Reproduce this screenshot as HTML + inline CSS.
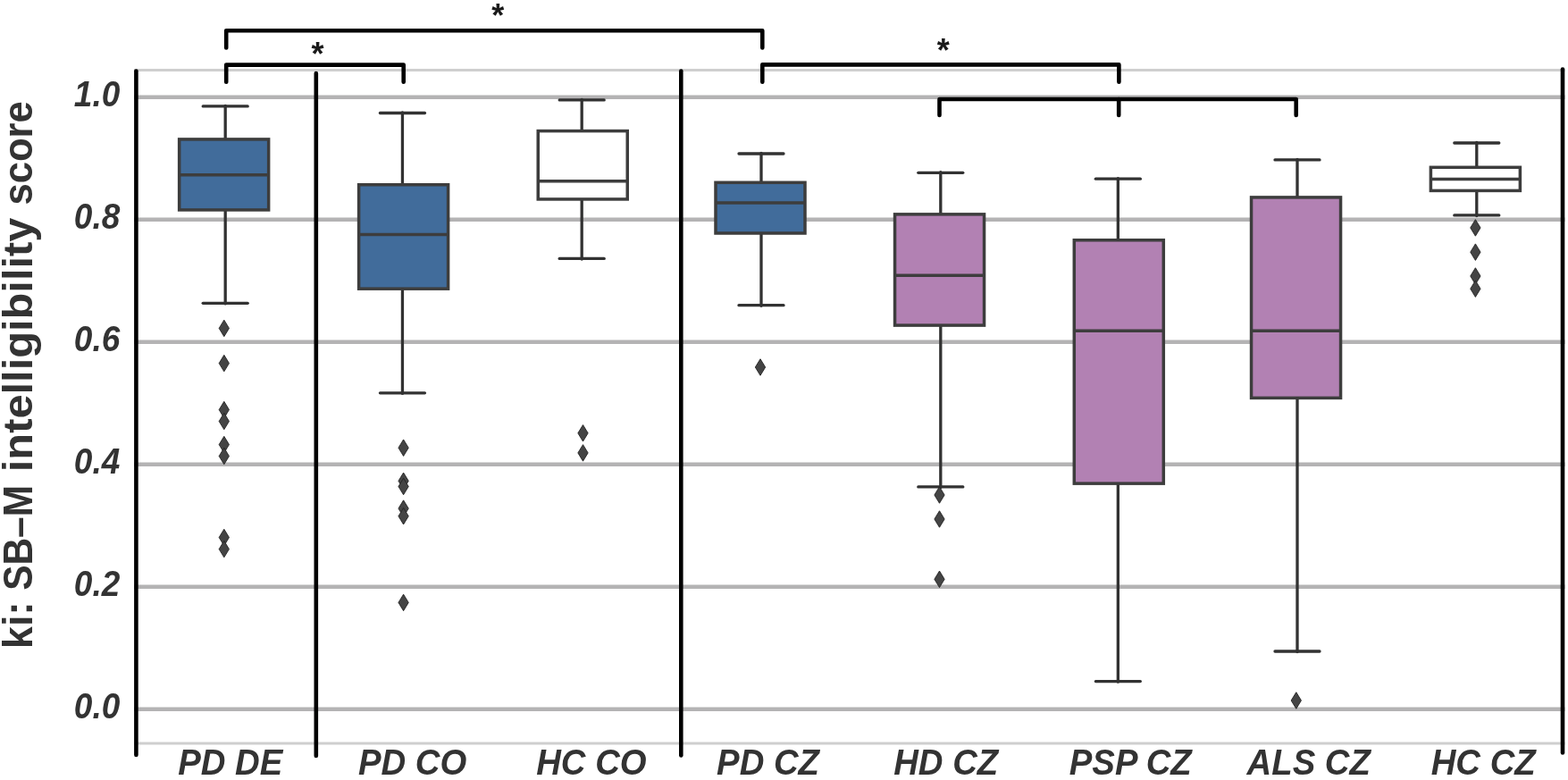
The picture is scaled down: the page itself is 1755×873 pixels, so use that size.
<!DOCTYPE html>
<html><head><meta charset="utf-8">
<style>
html,body{margin:0;padding:0;background:#fff;}
body{width:1755px;height:873px;overflow:hidden;}
svg{display:block;}
.t{font-family:"Liberation Sans",Arial,sans-serif;font-weight:bold;font-style:italic;fill:#333333;}
.yl{font-family:"Liberation Sans",Arial,sans-serif;font-weight:bold;fill:#333333;}
.st{font-family:"Liberation Sans",Arial,sans-serif;font-weight:bold;fill:#1a1a1a;}
</style></head><body>
<svg width="1755" height="873" viewBox="0 0 1755 873">
<rect x="0" y="0" width="1755" height="873" fill="#ffffff"/>
<g stroke="#cfcfcf" stroke-width="3">
<line x1="150" y1="78.5" x2="1751.5" y2="78.5"/>
<line x1="150" y1="832.1" x2="1751.5" y2="832.1"/>
</g>
<g stroke="#b4b3b4" stroke-width="4.4">
<line x1="150" y1="793.7" x2="1751.5" y2="793.7"/>
<line x1="150" y1="656.7" x2="1751.5" y2="656.7"/>
<line x1="150" y1="519.7" x2="1751.5" y2="519.7"/>
<line x1="150" y1="382.7" x2="1751.5" y2="382.7"/>
<line x1="150" y1="245.7" x2="1751.5" y2="245.7"/>
<line x1="150" y1="108.7" x2="1751.5" y2="108.7"/>
</g>
<g stroke="#323232" stroke-width="3.3" fill="none">
<line x1="252.2" y1="155.9" x2="252.2" y2="118.3" stroke-linecap="round"/>
<line x1="252.2" y1="234.95" x2="252.2" y2="339.9" stroke-linecap="round"/>
<line x1="227.2" y1="118.9" x2="277.2" y2="118.9" stroke-linecap="round"/>
<line x1="227.2" y1="339.3" x2="277.2" y2="339.3" stroke-linecap="round"/>
</g>
<g stroke="#3d3d3d" stroke-width="3.5" fill="none">
<rect x="200.65" y="155.9" width="100" height="79.05" fill="#416c9b"/>
<line x1="200.65" y1="195.8" x2="300.65" y2="195.8"/>
</g>
<g fill="#444444" stroke="#222222" stroke-width="0.9">
<path d="M250.8 358.15L256.45 367.4L250.8 376.65L245.15 367.4Z"/>
<path d="M250.8 397.35L256.45 406.6L250.8 415.85L245.15 406.6Z"/>
<path d="M250.8 449.35L256.45 458.6L250.8 467.85L245.15 458.6Z"/>
<path d="M250.8 462.25L256.45 471.5L250.8 480.75L245.15 471.5Z"/>
<path d="M250.8 488.35L256.45 497.6L250.8 506.85L245.15 497.6Z"/>
<path d="M250.8 501.25L256.45 510.5L250.8 519.75L245.15 510.5Z"/>
<path d="M250.8 592.25L256.45 601.5L250.8 610.75L245.15 601.5Z"/>
<path d="M250.8 605.35L256.45 614.6L250.8 623.85L245.15 614.6Z"/>
</g>
<g stroke="#323232" stroke-width="3.3" fill="none">
<line x1="450.45" y1="206.75" x2="450.45" y2="125.9" stroke-linecap="round"/>
<line x1="450.45" y1="323.2" x2="450.45" y2="440.4" stroke-linecap="round"/>
<line x1="425.45" y1="126.5" x2="475.45" y2="126.5" stroke-linecap="round"/>
<line x1="425.45" y1="439.8" x2="475.45" y2="439.8" stroke-linecap="round"/>
</g>
<g stroke="#3d3d3d" stroke-width="3.5" fill="none">
<rect x="401.6" y="206.75" width="100" height="116.45" fill="#416c9b"/>
<line x1="401.6" y1="262.6" x2="501.6" y2="262.6"/>
</g>
<g fill="#444444" stroke="#222222" stroke-width="0.9">
<path d="M451.6 491.95L457.25 501.2L451.6 510.45L445.95 501.2Z"/>
<path d="M451.6 529.05L457.25 538.3L451.6 547.55L445.95 538.3Z"/>
<path d="M451.6 535.25L457.25 544.5L451.6 553.75L445.95 544.5Z"/>
<path d="M451.6 559.85L457.25 569.1L451.6 578.35L445.95 569.1Z"/>
<path d="M451.6 568.45L457.25 577.7L451.6 586.95L445.95 577.7Z"/>
<path d="M451.6 665.15L457.25 674.4L451.6 683.65L445.95 674.4Z"/>
</g>
<g stroke="#323232" stroke-width="3.3" fill="none">
<line x1="651.2" y1="146.6" x2="651.2" y2="111.3" stroke-linecap="round"/>
<line x1="651.2" y1="222.95" x2="651.2" y2="290" stroke-linecap="round"/>
<line x1="626.2" y1="111.9" x2="676.2" y2="111.9" stroke-linecap="round"/>
<line x1="626.2" y1="289.4" x2="676.2" y2="289.4" stroke-linecap="round"/>
</g>
<g stroke="#3d3d3d" stroke-width="3.5" fill="none">
<rect x="602.25" y="146.6" width="100" height="76.35" fill="#ffffff"/>
<line x1="602.25" y1="202.85" x2="702.25" y2="202.85"/>
</g>
<g fill="#444444" stroke="#222222" stroke-width="0.9">
<path d="M652.5 475.55L658.15 484.8L652.5 494.05L646.85 484.8Z"/>
<path d="M652.5 497.65L658.15 506.9L652.5 516.15L646.85 506.9Z"/>
</g>
<g stroke="#323232" stroke-width="3.3" fill="none">
<line x1="852" y1="204.3" x2="852" y2="171.4" stroke-linecap="round"/>
<line x1="852" y1="261" x2="852" y2="342.25" stroke-linecap="round"/>
<line x1="827" y1="172" x2="877" y2="172" stroke-linecap="round"/>
<line x1="827" y1="341.65" x2="877" y2="341.65" stroke-linecap="round"/>
</g>
<g stroke="#3d3d3d" stroke-width="3.5" fill="none">
<rect x="801" y="204.3" width="100" height="56.7" fill="#416c9b"/>
<line x1="801" y1="226.9" x2="901" y2="226.9"/>
</g>
<g fill="#444444" stroke="#222222" stroke-width="0.9">
<path d="M851 401.75L856.65 411L851 420.25L845.35 411Z"/>
</g>
<g stroke="#323232" stroke-width="3.3" fill="none">
<line x1="1052.8" y1="239.85" x2="1052.8" y2="192.7" stroke-linecap="round"/>
<line x1="1052.8" y1="364.1" x2="1052.8" y2="545.5" stroke-linecap="round"/>
<line x1="1027.8" y1="193.3" x2="1077.8" y2="193.3" stroke-linecap="round"/>
<line x1="1027.8" y1="544.9" x2="1077.8" y2="544.9" stroke-linecap="round"/>
</g>
<g stroke="#3d3d3d" stroke-width="3.5" fill="none">
<rect x="1001.55" y="239.85" width="100" height="124.25" fill="#b281b3"/>
<line x1="1001.55" y1="308.2" x2="1101.55" y2="308.2"/>
</g>
<g fill="#444444" stroke="#222222" stroke-width="0.9">
<path d="M1051.5 544.75L1057.15 554L1051.5 563.25L1045.85 554Z"/>
<path d="M1051.5 571.75L1057.15 581L1051.5 590.25L1045.85 581Z"/>
<path d="M1051.5 639.05L1057.15 648.3L1051.5 657.55L1045.85 648.3Z"/>
</g>
<g stroke="#323232" stroke-width="3.3" fill="none">
<line x1="1251.35" y1="268.75" x2="1251.35" y2="199.6" stroke-linecap="round"/>
<line x1="1251.35" y1="541.15" x2="1251.35" y2="763.2" stroke-linecap="round"/>
<line x1="1226.35" y1="200.2" x2="1276.35" y2="200.2" stroke-linecap="round"/>
<line x1="1226.35" y1="762.6" x2="1276.35" y2="762.6" stroke-linecap="round"/>
</g>
<g stroke="#3d3d3d" stroke-width="3.5" fill="none">
<rect x="1202.3" y="268.75" width="100" height="272.4" fill="#b281b3"/>
<line x1="1202.3" y1="370.2" x2="1302.3" y2="370.2"/>
</g>
<g stroke="#323232" stroke-width="3.3" fill="none">
<line x1="1452" y1="220.9" x2="1452" y2="178.3" stroke-linecap="round"/>
<line x1="1452" y1="445.4" x2="1452" y2="729.6" stroke-linecap="round"/>
<line x1="1427" y1="178.9" x2="1477" y2="178.9" stroke-linecap="round"/>
<line x1="1427" y1="729" x2="1477" y2="729" stroke-linecap="round"/>
</g>
<g stroke="#3d3d3d" stroke-width="3.5" fill="none">
<rect x="1400.55" y="220.9" width="100" height="224.5" fill="#b281b3"/>
<line x1="1400.55" y1="370.2" x2="1500.55" y2="370.2"/>
</g>
<g fill="#444444" stroke="#222222" stroke-width="0.9">
<path d="M1450.8 774.75L1456.45 784L1450.8 793.25L1445.15 784Z"/>
</g>
<g stroke="#323232" stroke-width="3.3" fill="none">
<line x1="1652.8" y1="187.3" x2="1652.8" y2="159.4" stroke-linecap="round"/>
<line x1="1652.8" y1="213.4" x2="1652.8" y2="241.5" stroke-linecap="round"/>
<line x1="1627.8" y1="160" x2="1677.8" y2="160" stroke-linecap="round"/>
<line x1="1627.8" y1="240.9" x2="1677.8" y2="240.9" stroke-linecap="round"/>
</g>
<g stroke="#3d3d3d" stroke-width="3.5" fill="none">
<rect x="1601.4" y="187.3" width="100" height="26.1" fill="#ffffff"/>
<line x1="1601.4" y1="200.5" x2="1701.4" y2="200.5"/>
</g>
<g fill="#444444" stroke="#222222" stroke-width="0.9">
<path d="M1651.4 245.7L1657.05 254.95L1651.4 264.2L1645.75 254.95Z"/>
<path d="M1651.4 272.9L1657.05 282.15L1651.4 291.4L1645.75 282.15Z"/>
<path d="M1651.4 299.75L1657.05 309L1651.4 318.25L1645.75 309Z"/>
<path d="M1651.4 313.95L1657.05 323.2L1651.4 332.45L1645.75 323.2Z"/>
</g>
<g stroke="#000" stroke-width="4.6" stroke-linecap="round">
<line x1="152.4" y1="79.5" x2="152.4" y2="845"/>
<line x1="353.8" y1="82" x2="353.8" y2="846"/>
<line x1="762.3" y1="79.5" x2="762.3" y2="845.5"/>
<line x1="1749" y1="77.5" x2="1749" y2="842.5"/>
</g>
<g stroke="#000" stroke-width="4.6" fill="none" stroke-linecap="round" stroke-linejoin="round">
<path d="M253.2 53.4V34.2H853.3V53.4"/>
<path d="M253.2 91.7V72.6H451.7V91.7"/>
<path d="M853.3 91.7V72.4H1252.4V91.7"/>
<path d="M1051.5 129V111H1450.7V129"/>
<line x1="1252.2" y1="111" x2="1252.2" y2="129"/>
</g>
<text class="st" x="557.2" y="29.7" font-size="36" text-anchor="middle">*</text>
<text class="st" x="355.5" y="73.1" font-size="36" text-anchor="middle">*</text>
<text class="st" x="1055.7" y="68.5" font-size="36" text-anchor="middle">*</text>
<text class="t" transform="translate(134.3,804) scale(1,1.08)" font-size="37" text-anchor="end">0.0</text>
<text class="t" transform="translate(134.3,667) scale(1,1.08)" font-size="37" text-anchor="end">0.2</text>
<text class="t" transform="translate(134.3,530) scale(1,1.08)" font-size="37" text-anchor="end">0.4</text>
<text class="t" transform="translate(134.3,393) scale(1,1.08)" font-size="37" text-anchor="end">0.6</text>
<text class="t" transform="translate(134.3,256) scale(1,1.08)" font-size="37" text-anchor="end">0.8</text>
<text class="t" transform="translate(134.3,119) scale(1,1.08)" font-size="37" text-anchor="end">1.0</text>
<text class="t" transform="translate(199.2,867.2) scale(1,1.04)" font-size="38.3">PD DE</text>
<text class="t" transform="translate(400.9,867.2) scale(1,1.04)" font-size="38.3">PD CO</text>
<text class="t" transform="translate(600.2,867.2) scale(1,1.04)" font-size="38.3">HC CO</text>
<text class="t" transform="translate(802.1,867.2) scale(1,1.04)" font-size="38.3">PD CZ</text>
<text class="t" transform="translate(1000.2,867.2) scale(1,1.04)" font-size="38.3">HD CZ</text>
<text class="t" transform="translate(1196.8,867.2) scale(1,1.04)" font-size="38.3">PSP CZ</text>
<text class="t" transform="translate(1395.6,867.2) scale(1,1.04)" font-size="38.3">ALS CZ</text>
<text class="t" transform="translate(1601.7,867.2) scale(1,1.04)" font-size="38.3">HC CZ</text>
<text class="yl" transform="translate(36,0) rotate(-90)" font-size="46.3"><tspan x="-726.2" textLength="52.6" lengthAdjust="spacingAndGlyphs">ki:</tspan> <tspan x="-660.8" textLength="117.8" lengthAdjust="spacingAndGlyphs">SB–M</tspan> <tspan x="-528.2" textLength="284.6" lengthAdjust="spacingAndGlyphs">intelligibility</tspan> <tspan x="-229.6" textLength="116.4" lengthAdjust="spacingAndGlyphs">score</tspan></text>
</svg>
</body></html>
